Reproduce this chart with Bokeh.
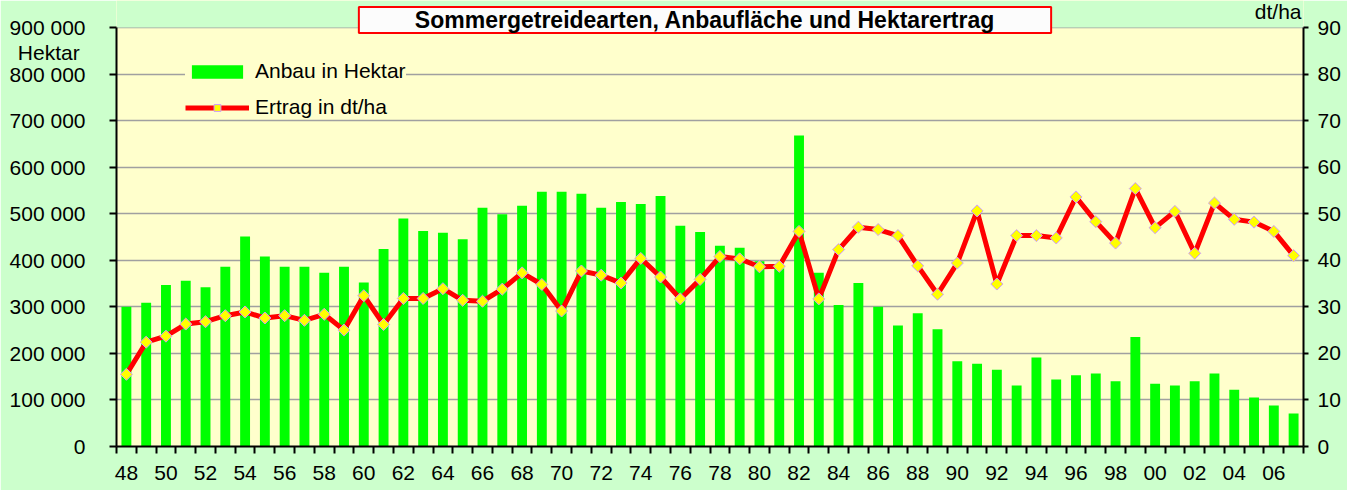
from bokeh.plotting import figure
from bokeh.models import (Range1d, LinearAxis, FixedTicker, Legend, LegendItem, Label,
                          BoxAnnotation)
from bokeh.embed import file_html
from bokeh.resources import INLINE

# ---------------- data ----------------
years = [1948, 1949, 1950, 1951, 1952, 1953, 1954, 1955, 1956, 1957,
         1958, 1959, 1960, 1961, 1962, 1963, 1964, 1965, 1966, 1967,
         1968, 1969, 1970, 1971, 1972, 1973, 1974, 1975, 1976, 1977,
         1978, 1979, 1980, 1981, 1982, 1983, 1984, 1985, 1986, 1987,
         1988, 1989, 1990, 1991, 1992, 1993, 1994, 1995, 1996, 1997,
         1998, 1999, 2000, 2001, 2002, 2003, 2004, 2005, 2006, 2007]

anbau_ha = [300000, 309000, 347000, 356000, 342000, 386000, 451000, 408000, 386000, 386000,
            373000, 386000, 352000, 424000, 490000, 463000, 459000, 445000, 513000, 499000,
            517000, 547000, 547000, 543000, 513000, 525000, 521000, 538000, 474000, 461000,
            431000, 427000, 398000, 383000, 668000, 373000, 304000, 351000, 300000, 260000,
            286000, 252000, 183000, 178000, 165000, 131000, 191000, 144000, 153000, 157000,
            140000, 235000, 135000, 131000, 140000, 157000, 122000, 105000, 88000, 71000]

ertrag_dtha = [15.5, 22.4, 23.7, 26.3, 26.8, 28.1, 28.9, 27.6, 28.1, 27.1,
               28.4, 25.0, 32.4, 26.2, 31.8, 31.8, 33.9, 31.4, 31.2, 33.8,
               37.3, 34.8, 29.1, 37.7, 36.8, 35.1, 40.4, 36.4, 31.7, 35.9,
               40.8, 40.3, 38.6, 38.7, 46.2, 31.7, 42.3, 47.1, 46.6, 45.3,
               38.8, 32.7, 39.4, 50.6, 34.9, 45.3, 45.3, 44.8, 53.6, 48.3,
               43.7, 55.4, 47.0, 50.5, 41.5, 52.3, 48.8, 48.2, 46.2, 41.0]

x_label_years = [1948, 1950, 1952, 1954, 1956, 1958, 1960, 1962, 1964, 1966,
                 1968, 1970, 1972, 1974, 1976, 1978, 1980, 1982, 1984, 1986,
                 1988, 1990, 1992, 1994, 1996, 1998, 2000, 2002, 2004, 2006]
x_labels = ["48", "50", "52", "54", "56", "58", "60", "62", "64", "66",
            "68", "70", "72", "74", "76", "78", "80", "82", "84", "86",
            "88", "90", "92", "94", "96", "98", "00", "02", "04", "06"]

left_ticks = [0, 100000, 200000, 300000, 400000, 500000, 600000, 700000, 800000, 900000]
left_labels = ["0", "100 000", "200 000", "300 000", "400 000", "500 000",
               "600 000", "700 000", "800 000", "900 000"]
right_ticks = [0, 10, 20, 30, 40, 50, 60, 70, 80, 90]
right_labels = ["0", "10", "20", "30", "40", "50", "60", "70", "80", "90"]

title_text = "Sommergetreidearten, Anbaufläche und Hektarertrag"
left_unit = "Hektar"
right_unit = "dt/ha"
series_bar = "Anbau in Hektar"
series_line = "Ertrag in dt/ha"

FONT = "Liberation Sans"
FS = "21px"

# ---------------- layout geometry (pixels) ----------------
W, H = 1347, 490
B_LEFT, B_RIGHT, B_BOTTOM = 116, 44, 44
TOP_GAP = 27                      # space between figure top and the 900 000 line
frame_w = W - B_LEFT - B_RIGHT
frame_h = H - B_BOTTOM            # frame reaches the figure top
inner_h = frame_h - TOP_GAP
y_end = left_ticks[-1] * frame_h / inner_h
y2_end = right_ticks[-1] * frame_h / inner_h
# where the unit name "Hektar" sits: 24.5 px below the top tick
unit_pos = left_ticks[-1] - 24.5 * left_ticks[-1] / inner_h

p = figure(width=W, height=H, output_backend="svg", toolbar_location=None,
           x_range=Range1d(years[0] - 0.5, years[-1] + 0.5),
           y_range=Range1d(left_ticks[0], y_end),
           min_border_left=B_LEFT, min_border_right=B_RIGHT,
           min_border_top=0, min_border_bottom=B_BOTTOM)
p.extra_y_ranges = {"yield": Range1d(right_ticks[0], y2_end)}

p.border_fill_color = "#CCFFCC"
p.background_fill_color = "#FFFFCC"
p.outline_line_color = None

# green band above the plotting area (looks like the surrounding border)
p.add_layout(BoxAnnotation(bottom=left_ticks[-1], fill_color="#CCFFCC", fill_alpha=1,
                           line_color=None, level="underlay"))

# x axis
xa = p.xaxis[0]
boundaries = [y - 0.5 for y in years] + [years[-1] + 0.5]
xa.ticker = FixedTicker(ticks=x_label_years, minor_ticks=boundaries)
xa.major_label_overrides = {y: l for y, l in zip(x_label_years, x_labels)}
xa.major_tick_line_color = None
xa.major_tick_out = 6
xa.minor_tick_out = 7
xa.minor_tick_in = 0
xa.minor_tick_line_color = "black"
xa.minor_tick_line_width = 2
xa.axis_line_color = "black"
xa.axis_line_width = 2
xa.major_label_standoff = 12
xa.major_label_text_font = FONT
xa.major_label_text_font_size = FS
xa.major_label_text_color = "black"
p.xgrid.visible = False

# left axis: visible tick marks are the minor ticks; the extra major tick carries "Hektar"
ya = p.yaxis[0]
ya.bounds = (left_ticks[0], left_ticks[-1])
ya.ticker = FixedTicker(ticks=left_ticks + [unit_pos], minor_ticks=left_ticks)
overrides = {t: l for t, l in zip(left_ticks, left_labels)}
overrides[unit_pos] = left_unit + "\u00a0"
ya.major_label_overrides = overrides
ya.major_tick_out = 7
ya.major_tick_in = 0
ya.major_tick_line_color = None
ya.minor_tick_out = 7
ya.minor_tick_in = 0
ya.minor_tick_line_color = "black"
ya.minor_tick_line_width = 2
ya.axis_line_color = "black"
ya.axis_line_width = 2
ya.major_label_standoff = 24
ya.major_label_text_font = FONT
ya.major_label_text_font_size = FS
ya.major_label_text_color = "black"
p.ygrid.ticker = FixedTicker(ticks=left_ticks)
p.ygrid.grid_line_color = "#A0A0A0"
p.ygrid.grid_line_width = 1.5

# right axis
ra = LinearAxis(y_range_name="yield", ticker=FixedTicker(ticks=right_ticks),
                bounds=(right_ticks[0], right_ticks[-1]))
ra.major_label_overrides = {t: l for t, l in zip(right_ticks, right_labels)}
ra.major_tick_out = 5
ra.major_tick_in = 0
ra.major_tick_line_width = 2
ra.minor_tick_line_color = None
ra.axis_line_color = "black"
ra.axis_line_width = 2
ra.major_label_standoff = 9
ra.major_label_text_font = FONT
ra.major_label_text_font_size = FS
ra.major_label_text_color = "black"
p.add_layout(ra, "right")

# ---------------- glyphs ----------------
bars = p.vbar(x=years, top=anbau_ha, width=0.5, bottom=0,
              fill_color="#00FF00", line_color=None)
line = p.line(x=years, y=ertrag_dtha, y_range_name="yield",
              line_color="#FF0000", line_width=5)
pts = p.scatter(x=years, y=ertrag_dtha, y_range_name="yield", marker="square",
                size=8.5, angle=0.785398, fill_color="#FFFF00",
                line_color="#CC99FF", line_width=1)

legend = Legend(items=[LegendItem(label=series_bar, renderers=[bars]),
                       LegendItem(label=series_line, renderers=[line, pts])],
                location=(69, 327), orientation="vertical",
                background_fill_color="#FFFFCC", background_fill_alpha=1,
                border_line_color=None, padding=8, margin=0, spacing=12,
                glyph_width=64, glyph_height=17, label_height=24,
                label_standoff=6, label_text_font=FONT,
                label_text_font_size=FS, label_text_color="black")
p.add_layout(legend, "center")

# ---------------- texts ----------------
title = Label(x=588.5, y=frame_h - 19.5, x_units="screen", y_units="screen", text=title_text,
              text_font=FONT, text_font_size="23px", text_font_style="bold",
              text_color="black", text_align="center", text_baseline="middle",
              background_fill_color="#FCFCFC", border_line_color="#FF0000",
              border_line_width=2,
              padding=dict(left=56, right=56, top=0, bottom=0))
p.add_layout(title)

dtha = Label(x=frame_w - 2, y=frame_h - 11, x_units="screen", y_units="screen",
             text=right_unit, text_font=FONT, text_font_size=FS, text_color="black",
             text_align="right", text_baseline="middle")
p.add_layout(dtha)

open("out.html", "w").write(file_html(p, INLINE))
